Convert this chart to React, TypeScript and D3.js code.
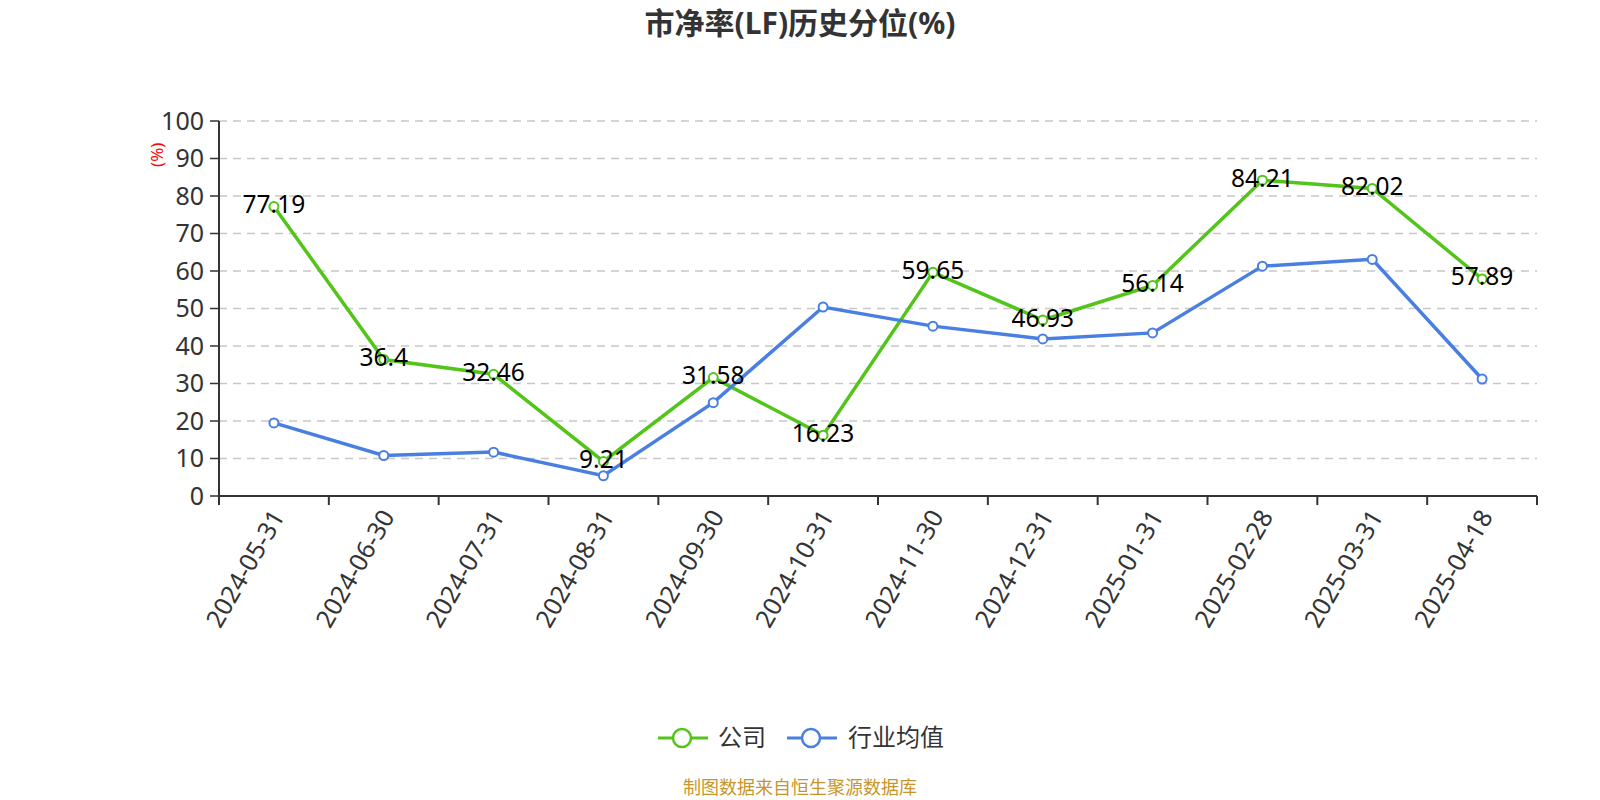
import React from 'react';
import * as d3 from 'd3';

// 市净率(LF)历史分位 — company vs industry average, monthly snapshots.

const dates = [
  '2024-05-31', '2024-06-30', '2024-07-31', '2024-08-31', '2024-09-30', '2024-10-31',
  '2024-11-30', '2024-12-31', '2025-01-31', '2025-02-28', '2025-03-31', '2025-04-18',
];
const company = [77.19, 36.4, 32.46, 9.21, 31.58, 16.23, 59.65, 46.93, 56.14, 84.21, 82.02, 57.89];
const industry = [19.5, 10.8, 11.7, 5.4, 24.9, 50.4, 45.3, 41.9, 43.5, 61.3, 63.1, 31.2];
const yTicks = [0, 10, 20, 30, 40, 50, 60, 70, 80, 90, 100];

const GREEN = '#52c41a';
const BLUE = '#4a7fe2';
const FONT = '"Noto Sans", "Noto Sans CJK SC", sans-serif';

export default function App() {
  const width = 1600;
  const height = 800;
  const margin = { top: 121, right: 63, bottom: 304, left: 219 };
  const w = width - margin.left - margin.right;
  const h = height - margin.top - margin.bottom;

  const x = d3.scaleBand<string>().domain(dates).range([0, w]);
  const y = d3.scaleLinear().domain([0, 100]).range([h, 0]);
  const cx = (d: string) => (x(d) ?? 0) + x.bandwidth() / 2;

  const line = d3.line<number>()
    .x((_, i) => cx(dates[i]))
    .y((v) => y(v));

  const series = [
    { name: '公司', values: company, color: GREEN, labels: true },
    { name: '行业均值', values: industry, color: BLUE, labels: false },
  ];

  const boundaries = [...dates.map((d) => x(d) ?? 0), w];

  return (
    <svg width={width} height={height} style={{ position: 'absolute', left: 0, top: 0, fontFamily: FONT }}>
      <rect width={width} height={height} fill="#fff" />
      <text x={width / 2} y={34} textAnchor="middle" fontSize={30} fontWeight="bold" fill="#333">
        市净率(LF)历史分位(%)
      </text>

      <g transform={`translate(${margin.left},${margin.top})`}>
        {/* grid + y axis */}
        {yTicks.map((t) => (
          <g key={t}>
            {t > 0 && (
              <line x1={0} x2={w} y1={y(t)} y2={y(t)} stroke="#c8c8c8" strokeWidth={1.5} strokeDasharray="8 6" />
            )}
            <line x1={-9} x2={0} y1={y(t)} y2={y(t)} stroke="#333" strokeWidth={1.5} />
            <text x={-15} y={y(t)} dy="0.35em" textAnchor="end" fontSize={25} fill="#333">{t}</text>
          </g>
        ))}
        <line x1={0} x2={0} y1={0} y2={h} stroke="#333" strokeWidth={2} />
        <text transform={`translate(-62,${y(91)}) rotate(-90)`} textAnchor="middle" dy="0.35em" fontSize={17} fill="red">
          (%)
        </text>

        {/* x axis */}
        <line x1={0} x2={w} y1={h} y2={h} stroke="#333" strokeWidth={2} />
        {boundaries.map((b, i) => (
          <line key={i} x1={b} x2={b} y1={h} y2={h + 9} stroke="#333" strokeWidth={2} />
        ))}
        {dates.map((d) => (
          <text key={d} transform={`translate(${cx(d) + 4},${h + 16}) rotate(-60)`}
            textAnchor="end" dy="0.35em" fontSize={25} fill="#333">{d}</text>
        ))}

        {/* lines */}
        {series.map((s) => (
          <g key={s.name}>
            <path d={line(s.values) ?? ''} fill="none" stroke={s.color} strokeWidth={3.5} />
            {s.values.map((v, i) => (
              <circle key={i} cx={cx(dates[i])} cy={y(v)} r={4.5} fill="#fff" stroke={s.color} strokeWidth={2} />
            ))}
          </g>
        ))}
        {series.filter((s) => s.labels).map((s) =>
          s.values.map((v, i) => (
            <text key={`${s.name}-${i}`} x={cx(dates[i])} y={y(v) - 2} dy="0.35em" textAnchor="middle"
              fontSize={24.5} fill="#000">{v}</text>
          )),
        )}
      </g>

      {/* legend */}
      <g transform="translate(0,738)">
        {[
          { s: series[0], x0: 658, tx: 718 },
          { s: series[1], x0: 787, tx: 848 },
        ].map(({ s, x0, tx }) => (
          <g key={s.name}>
            <line x1={x0} x2={x0 + 50} y1={0} y2={0} stroke={s.color} strokeWidth={3} />
            <circle cx={x0 + 24} cy={0} r={9} fill="#fff" stroke={s.color} strokeWidth={2.5} />
            <text x={tx} y={0} dy="0.35em" fontSize={24} fill="#333">{s.name}</text>
          </g>
        ))}
      </g>

      <text x={800} y={788} dy="0.35em" textAnchor="middle" fontSize={18} fill="#c8952a">
        制图数据来自恒生聚源数据库
      </text>
    </svg>
  );
}
